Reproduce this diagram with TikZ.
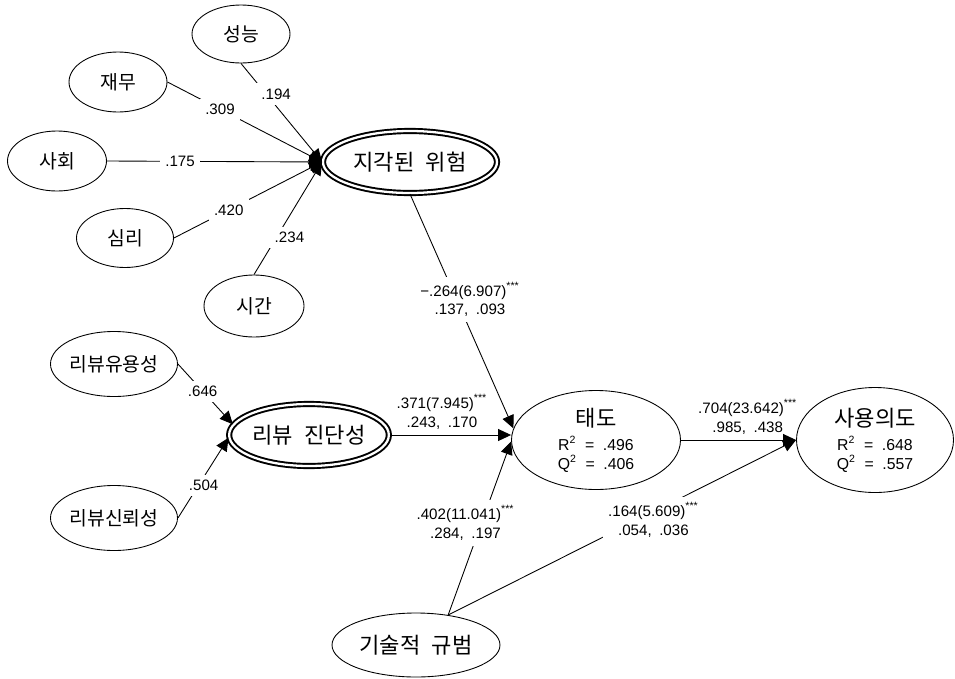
\documentclass[tikz,border=0pt]{standalone}
\usepackage{fontspec}
\setmainfont{Liberation Sans}
\newfontfamily\kr{Noto Sans CJK KR}
\newcommand{\krbig}{\kr\fontsize{12.6}{14}\selectfont}
\newcommand{\pstar}{\textsuperscript{***}}
\newcommand{\eqsp}{\hspace{.55em}=\hspace{.55em}}
\usetikzlibrary{arrows.meta, shapes.geometric}

\begin{document}
\begin{tikzpicture}[
  lv/.style={draw, ellipse, line width=0.5pt, inner sep=0pt, font=\kr\fontsize{11}{12}\selectfont},
  lvbig/.style={lv, font=\krbig},
  lvres/.style={lv, align=center, font=\fontsize{9}{10.8}\selectfont},
  hoc/.style={lvbig, double, line width=1.1pt, double distance=1.3pt},
  lnk/.style={line width=0.5pt, -{Triangle[length=2.6mm, width=2.4mm]}},
  coef/.style={fill=white, inner sep=3pt, align=center, font=\fontsize{8.6}{10.8}\selectfont},
]
\useasboundingbox (0,0) rectangle (19.1,-13.56);

% --- perceived risk and its dimensions ---
\node[lv, minimum width=1.96cm, minimum height=1.16cm] (perf) at (4.82,-0.68) {성능};
\node[lv, minimum width=1.96cm, minimum height=1.2cm] (fin) at (2.36,-1.64) {재무};
\node[lv, minimum width=1.98cm, minimum height=1.2cm] (soc) at (1.14,-3.22) {사회};
\node[lv, minimum width=1.94cm, minimum height=1.18cm] (psy) at (2.5,-4.76) {심리};
\node[lv, minimum width=2.0cm, minimum height=1.24cm] (time) at (5.08,-6.12) {시간};
\node[hoc, minimum width=3.48cm, minimum height=1.24cm] (risk) at (8.2,-3.24) {지각된\enspace 위험};

\draw[lnk] (perf.south) -- (risk.west) node[coef, pos=0.31, xshift=0.2cm] {.194};
\draw[lnk] (fin.east) -- (risk.west) node[coef, pos=0.34] {.309};
\draw[lnk] (soc.east) -- (risk.west) node[coef, pos=0.34] {.175};
\draw[lnk] (psy.east) -- (risk.west) node[coef, pos=0.37] {.420};
\draw[lnk] (time.north) -- (risk.west) node[coef, pos=0.33, xshift=0.26cm] {.234};

% --- review diagnosticity ---
\node[lv, minimum width=2.54cm, minimum height=1.3cm] (useful) at (2.28,-7.28) {리뷰유용성};
\node[lv, minimum width=2.54cm, minimum height=1.3cm] (cred) at (2.28,-10.36) {리뷰신뢰성};
\node[hoc, minimum width=2.96cm, minimum height=1.24cm] (diag) at (6.18,-8.7) {리뷰\enspace 진단성};

\draw[lnk] (useful.east) -- (diag.172) node[coef, pos=0.45] {.646};
\draw[lnk] (cred.east) -- (diag.182) node[coef, pos=0.41, xshift=0.1cm] {.504};

% --- structural model ---
\node[lvres, minimum width=3.38cm, minimum height=1.98cm] (att) at (11.92,-8.8)
  {{\krbig 태도}\\[3pt] R\textsuperscript{2}\eqsp.496\\ Q\textsuperscript{2}\eqsp.406};
\node[lvres, minimum width=3.14cm, minimum height=2.1cm] (intent) at (17.5,-8.8)
  {{\krbig 사용의도}\\[3pt] R\textsuperscript{2}\eqsp.648\\ Q\textsuperscript{2}\eqsp.557};
\node[lvbig, minimum width=3.36cm, minimum height=1.28cm] (norm) at (8.32,-12.9) {기술적\enspace 규범};

\draw[lnk] (risk.south) -- (att.172)
  node[coef, pos=0.45, xshift=0.27cm] {−.264(6.907)\pstar\\ .137,\enspace.093};
\draw[lnk] (diag.east) -- (diag.east -| att.west)
  node[coef, above, fill=none, pos=0.43] {.371(7.945)\pstar\\ .243,\enspace.170};
\draw[lnk] (norm.43) -- (att.181)
  node[coef, pos=0.53, xshift=-0.32cm] {.402(11.041)\pstar\\ .284,\enspace.197};
\draw[lnk] (norm.43) -- (intent.west)
  node[coef, pos=0.59, yshift=-0.16cm] {.164(5.609)\pstar\\ .054,\enspace.036};
\draw[lnk] (att.east) -- (intent.west)
  node[coef, above, fill=none, pos=0.58] {.704(23.642)\pstar\\ .985,\enspace.438};

\end{tikzpicture}
\end{document}
